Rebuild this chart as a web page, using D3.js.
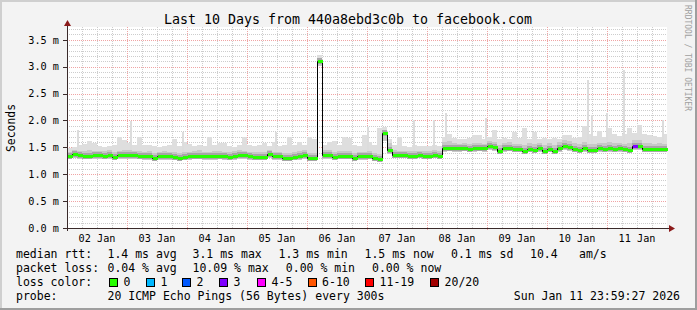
<!DOCTYPE html>
<html>
<head>
<meta charset="utf-8">
<script src="https://cdn.jsdelivr.net/npm/d3@7"></script>
<style>
  body { margin: 0; background: #f3f3f3; }
  svg { display: block; }
  text { font-family: "DejaVu Sans Mono", monospace; fill: #000; }
</style>
</head>
<body>
<div id="graf"></div>
<script>
// 2-hour buckets, Jan 2 00:00 -> Jan 12 00:00 (one row per day)
const medianRtt = [
  1.33,1.37,1.35,1.34,1.34,1.35,1.35,1.34,1.35,1.32,1.35,1.36,
  1.36,1.36,1.34,1.33,1.33,1.31,1.33,1.33,1.33,1.32,1.31,1.32,
  1.33,1.34,1.34,1.33,1.33,1.33,1.34,1.33,1.32,1.33,1.35,1.35,
  1.33,1.32,1.32,1.32,1.37,1.33,1.33,1.30,1.30,1.32,1.33,1.36,
  1.30,1.30,3.10,1.36,1.35,1.32,1.34,1.34,1.34,1.30,1.33,1.33,
  1.34,1.30,1.29,1.77,1.46,1.36,1.35,1.35,1.34,1.34,1.35,1.34,
  1.34,1.35,1.34,1.49,1.49,1.48,1.48,1.49,1.47,1.48,1.49,1.48,
  1.53,1.50,1.44,1.48,1.49,1.47,1.47,1.43,1.47,1.46,1.48,1.44,
  1.47,1.44,1.48,1.52,1.50,1.47,1.46,1.48,1.46,1.45,1.48,1.47,
  1.48,1.47,1.48,1.47,1.46,1.52,1.52,1.47,1.47,1.47,1.47,1.47
]
const smokeLo = [
  1.28,1.30,1.29,1.28,1.29,1.29,1.28,1.28,1.29,1.26,1.28,1.29,
  1.29,1.29,1.28,1.27,1.27,1.25,1.27,1.27,1.27,1.26,1.25,1.26,
  1.27,1.28,1.28,1.27,1.27,1.27,1.28,1.27,1.26,1.27,1.28,1.29,
  1.27,1.26,1.26,1.26,1.30,1.27,1.27,1.25,1.25,1.26,1.27,1.29,
  1.25,1.25,3.02,1.29,1.29,1.27,1.28,1.28,1.28,1.25,1.27,1.27,
  1.28,1.25,1.24,1.62,1.38,1.30,1.30,1.30,1.29,1.29,1.30,1.29,
  1.29,1.30,1.29,1.42,1.43,1.42,1.42,1.43,1.41,1.42,1.43,1.42,
  1.45,1.43,1.39,1.42,1.43,1.41,1.41,1.38,1.41,1.40,1.42,1.39,
  1.41,1.39,1.42,1.45,1.44,1.41,1.40,1.42,1.40,1.39,1.42,1.41,
  1.42,1.41,1.42,1.41,1.40,1.45,1.45,1.41,1.41,1.41,1.41,1.41
]
const smokeMid = [
  1.42,1.46,1.44,1.43,1.45,1.44,1.43,1.44,1.45,1.42,1.44,1.46,
  1.45,1.44,1.43,1.42,1.43,1.40,1.42,1.43,1.42,1.41,1.40,1.42,
  1.42,1.43,1.45,1.42,1.42,1.43,1.44,1.42,1.41,1.43,1.45,1.44,
  1.42,1.41,1.42,1.41,1.46,1.42,1.42,1.40,1.39,1.42,1.43,1.46,
  1.40,1.40,3.15,1.46,1.45,1.42,1.44,1.43,1.44,1.40,1.42,1.42,
  1.43,1.40,1.38,1.82,1.58,1.46,1.44,1.44,1.43,1.43,1.44,1.43,
  1.44,1.45,1.43,1.60,1.62,1.58,1.57,1.59,1.57,1.58,1.59,1.57,
  1.62,1.60,1.55,1.58,1.60,1.57,1.56,1.54,1.58,1.56,1.58,1.55,
  1.58,1.55,1.60,1.64,1.62,1.58,1.57,1.60,1.57,1.56,1.59,1.58,
  1.60,1.58,1.58,1.57,1.58,1.64,1.63,1.58,1.58,1.57,1.58,1.57
]
const smokeTop = [
  1.48,1.50,1.55,1.56,1.61,1.58,1.52,1.50,1.52,1.55,1.70,1.64,
  1.58,1.55,1.70,1.55,1.55,1.52,1.50,1.52,1.55,1.66,1.52,1.60,
  1.56,1.52,1.55,1.52,1.70,1.55,1.58,1.58,1.52,1.50,1.55,1.70,
  1.55,1.52,1.55,1.58,1.52,1.60,1.52,1.55,1.70,1.55,1.60,1.55,
  1.70,1.66,3.22,1.55,1.60,1.61,1.55,1.70,1.68,1.55,1.52,1.73,
  1.60,1.55,1.86,1.88,1.65,1.55,1.70,1.52,1.50,1.55,1.52,1.52,
  1.52,1.55,1.52,1.70,1.75,1.68,1.65,1.66,1.68,1.73,1.73,1.66,
  1.70,1.82,1.66,1.68,1.65,1.79,1.68,1.86,1.66,1.79,1.66,1.68,
  1.66,1.68,1.65,1.73,1.73,1.68,1.70,1.89,1.75,1.72,1.80,1.70,
  1.86,1.75,1.72,1.75,1.86,1.76,1.92,1.74,1.73,1.72,1.70,1.75
]
// narrow single-ping outliers (hours after Jan 2 00:00, ms)
const spikeHours = [4.4, 25.6, 46.4, 83.4, 120.4, 138.8, 146.8, 151.4, 167.6, 208.4, 210, 216, 222.8, 238.4]
const spikeValues = [1.82, 1.99, 1.79, 1.79, 1.88, 2.00, 2.00, 2.14, 2.04, 2.75, 2.10, 2.14, 2.94, 2.00]
// buckets with packet loss (index, lost pings)
const lossBuckets = [113]
const lossCounts = [3]

const lossLabels = ["0", "1", "2", "3", "4-5", "6-10", "11-19", "20/20"]
const lossMaxCount = [0, 1, 2, 3, 5, 10, 19, 20]
const lossColors = ["#26ff00", "#00b8ff", "#0059ff", "#7e00ff", "#ff00ff", "#ff5500", "#ff0000", "#a10000"]

const yTicks = [0, 0.5, 1, 1.5, 2, 2.5, 3, 3.5]
const rttStats = ["median rtt:", "1.4 ms avg", "3.1 ms max", "1.3 ms min", "1.5 ms now", "0.1 ms sd", "10.4", "am/s"]
const lossStats = ["packet loss:", "0.04 % avg", "10.09 % max", "0.00 % min", "0.00 % now"]
const probeText = ["probe:", "20 ICMP Echo Pings (56 Bytes) every 300s", "Sun Jan 11 23:59:27 2026"]
const title = "Last 10 Days from 440a8ebd3c0b to facebook.com"

const draw = () => {
  const W = 697, H = 310
  const plot = { left: 67, right: 667, top: 27, bottom: 228 }
  const t0 = new Date(Date.UTC(2026, 0, 2))
  const t1 = new Date(Date.UTC(2026, 0, 12))
  const hour = 3600 * 1000
  const bucketTime = (i) => new Date(t0.getTime() + i * 2 * hour)

  const x = d3.scaleUtc().domain([t0, t1]).range([plot.left, plot.right])
  const y = d3.scaleLinear().domain([0, 3.72]).range([plot.bottom, plot.top + 1])

  const svg = d3.select("#graf").append("svg").attr("width", W).attr("height", H)

  // frame
  svg.append("rect").attr("width", W).attr("height", H).attr("fill", "#f3f3f3")
  svg.append("rect").attr("x", 0).attr("y", 0).attr("width", W).attr("height", 2).attr("fill", "#cfcfcf")
  svg.append("rect").attr("x", 0).attr("y", 0).attr("width", 2).attr("height", H).attr("fill", "#cfcfcf")
  svg.append("rect").attr("x", 0).attr("y", H - 2).attr("width", W).attr("height", 2).attr("fill", "#9e9e9e")
  svg.append("rect").attr("x", W - 2).attr("y", 0).attr("width", 2).attr("height", H).attr("fill", "#9e9e9e")

  svg.append("rect")
    .attr("x", plot.left).attr("y", plot.top)
    .attr("width", plot.right - plot.left).attr("height", plot.bottom - plot.top)
    .attr("fill", "#fff")

  // grid
  const grid = svg.append("g").attr("shape-rendering", "crispEdges")
  const minorY = d3.range(1, 38).map((d) => d / 10).filter((d) => Math.round(d * 10) % 5 !== 0)
  grid.selectAll(".gy").data(minorY).join("line")
    .attr("x1", plot.left).attr("x2", plot.right)
    .attr("y1", (d) => Math.round(y(d)) + 0.5).attr("y2", (d) => Math.round(y(d)) + 0.5)
    .attr("stroke", "#cdcdcd").attr("stroke-dasharray", "1,1")
  const sixHours = d3.utcHour.every(6).range(t0, t1).filter((d) => d.getUTCHours() !== 0)
  grid.selectAll(".gx").data(sixHours).join("line")
    .attr("y1", plot.top).attr("y2", plot.bottom)
    .attr("x1", (d) => Math.round(x(d)) + 0.5).attr("x2", (d) => Math.round(x(d)) + 0.5)
    .attr("stroke", "#cdcdcd").attr("stroke-dasharray", "1,1")
  grid.selectAll(".my").data(yTicks.slice(1)).join("line")
    .attr("x1", plot.left).attr("x2", plot.right)
    .attr("y1", (d) => Math.round(y(d)) + 0.5).attr("y2", (d) => Math.round(y(d)) + 0.5)
    .attr("stroke", "#f0a4a4").attr("stroke-dasharray", "1,1")
  const days = d3.utcDay.range(d3.utcDay.offset(t0, 1), t1)
  grid.selectAll(".mx").data(days).join("line")
    .attr("y1", plot.top).attr("y2", plot.bottom + 3)
    .attr("x1", (d) => Math.round(x(d)) + 0.5).attr("x2", (d) => Math.round(x(d)) + 0.5)
    .attr("stroke", "#f0a4a4").attr("stroke-dasharray", "1,1")

  // smoke
  const smoke = svg.append("g").attr("shape-rendering", "crispEdges")
  const idx = d3.range(medianRtt.length)
  const bx = (i) => Math.round(x(bucketTime(i)))
  const bw = (i) => Math.round(x(bucketTime(i + 1))) - bx(i)
  smoke.selectAll(".s1").data(idx).join("rect")
    .attr("x", bx).attr("width", bw)
    .attr("y", (i) => y(smokeTop[i])).attr("height", (i) => y(smokeLo[i]) - y(smokeTop[i]))
    .attr("fill", "#dedede")
  smoke.selectAll(".sp").data(spikeHours).join("rect")
    .attr("x", (h) => Math.round(x(new Date(t0.getTime() + h * hour))) - 1).attr("width", 2)
    .attr("y", (h, k) => y(spikeValues[k]))
    .attr("height", (h, k) => y(medianRtt[Math.floor(h / 2)]) - y(spikeValues[k]))
    .attr("fill", "#dcdcdc")
  smoke.selectAll(".s2").data(idx).join("rect")
    .attr("x", bx).attr("width", bw)
    .attr("y", (i) => y(smokeMid[i])).attr("height", (i) => y(smokeLo[i]) - y(smokeMid[i]))
    .attr("fill", "#c8c8c8")
  smoke.selectAll(".s3").data(idx).join("rect")
    .attr("x", bx).attr("width", bw)
    .attr("y", (i) => Math.round(y(medianRtt[i])) - 3).attr("height", 6)
    .attr("fill", "#a6a6a6")

  // median line + loss coloured band
  const pts = idx.map((i) => [bucketTime(i), medianRtt[i]])
  pts.push([t1, medianRtt[medianRtt.length - 1]])
  svg.append("path")
    .attr("d", d3.line().x((d) => Math.round(x(d[0])) + 0.5).y((d) => Math.round(y(d[1])) + 0.5).curve(d3.curveStepAfter)(pts))
    .attr("fill", "none").attr("stroke", "#000").attr("stroke-width", 1)
  const lossColor = (n) => lossColors[lossMaxCount.findIndex((m) => n <= m)]
  svg.append("g").attr("shape-rendering", "crispEdges")
    .selectAll("rect").data(idx).join("rect")
    .attr("x", (i) => bx(i) + 1).attr("width", (i) => bw(i))
    .attr("y", (i) => Math.round(y(medianRtt[i])) - 1).attr("height", 3)
    .attr("fill", (i) => {
      const k = lossBuckets.indexOf(i)
      return lossColor(k < 0 ? 0 : lossCounts[k])
    })

  // axes
  const axis = svg.append("g").attr("shape-rendering", "crispEdges")
  axis.append("line").attr("x1", plot.left + 0.5).attr("x2", plot.left + 0.5)
    .attr("y1", plot.bottom + 3).attr("y2", plot.top - 3).attr("stroke", "#3a2a2a")
  axis.append("line").attr("x1", plot.left - 4).attr("x2", plot.right + 4)
    .attr("y1", plot.bottom + 0.5).attr("y2", plot.bottom + 0.5).attr("stroke", "#3a2a2a")
  axis.selectAll(".yt").data(yTicks).join("line")
    .attr("x1", plot.left - 4).attr("x2", plot.left)
    .attr("y1", (d) => Math.round(y(d)) + 0.5).attr("y2", (d) => Math.round(y(d)) + 0.5)
    .attr("stroke", "#3a2a2a")
  svg.append("path").attr("d", `M${plot.left - 3},${plot.top - 1}L${plot.left + 4},${plot.top - 1}L${plot.left + 0.5},${plot.top - 7}Z`).attr("fill", "#8b1a1a")
  svg.append("path").attr("d", `M${plot.right + 2},${plot.bottom - 3}L${plot.right + 2},${plot.bottom + 4}L${plot.right + 8},${plot.bottom + 0.5}Z`).attr("fill", "#8b1a1a")

  svg.append("g").selectAll("text").data(yTicks).join("text")
    .attr("x", 59).attr("y", (d) => y(d) + 3.7)
    .attr("text-anchor", "end").style("font-size", "10.2px")
    .text((d) => d3.format(".1f")(d) + " m")

  const noons = d3.utcDay.range(t0, t1).map((d) => d3.utcHour.offset(d, 12))
  svg.append("g").selectAll("text").data(noons).join("text")
    .attr("x", (d) => x(d)).attr("y", 241.5)
    .attr("text-anchor", "middle").style("font-size", "10.2px")
    .text(d3.utcFormat("%d %b"))

  // title, unit, watermark
  svg.append("text").attr("x", 348).attr("y", 24).attr("text-anchor", "middle")
    .style("font-size", "13.3px").text(title)
  svg.append("text").attr("transform", "translate(15,128) rotate(-90)")
    .attr("text-anchor", "middle").style("font-size", "11.4px").text("Seconds")
  svg.append("text").attr("transform", "translate(685,5) rotate(90)")
    .style("font-size", "8px").style("fill", "#a0a0a0").text("RRDTOOL / TOBI OETIKER")

  // legend
  const leg = svg.append("g").style("font-size", "11.5px")
  const rttX = [16, 107.5, 192.5, 278.5, 364.5, 451, 530, 579]
  rttStats.forEach((s, k) => leg.append("text").attr("x", rttX[k]).attr("y", 258).text(s))
  const lossX = [16, 107.5, 192.5, 285.8, 372]
  lossStats.forEach((s, k) => leg.append("text").attr("x", lossX[k]).attr("y", 272).text(s))
  leg.append("text").attr("x", 16).attr("y", 286).text("loss color:")
  const swX = [109, 146, 182, 219, 257, 307.5, 365, 430]
  lossLabels.forEach((s, k) => {
    leg.append("rect").attr("x", swX[k] + 0.5).attr("y", 278.5).attr("width", 8).attr("height", 8)
      .attr("fill", lossColors[k]).attr("stroke", "#000").attr("shape-rendering", "crispEdges")
    leg.append("text").attr("x", swX[k] + 14.6).attr("y", 286).text(s)
  })
  leg.append("text").attr("x", 16).attr("y", 300).text(probeText[0])
  leg.append("text").attr("x", 107.5).attr("y", 300).text(probeText[1])
  leg.append("text").attr("x", 680).attr("y", 300).attr("text-anchor", "end").text(probeText[2])
}

draw()
</script>
</body>
</html>
